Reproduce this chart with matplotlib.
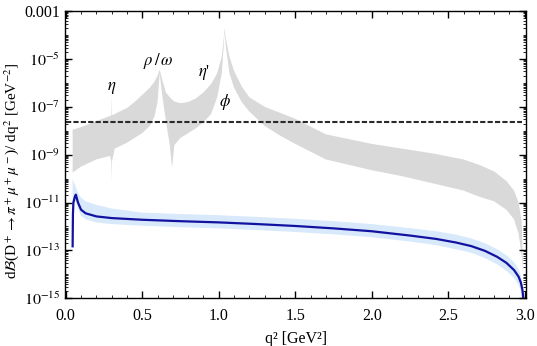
import numpy as np
import matplotlib
matplotlib.use("Agg")
import matplotlib.pyplot as plt
from matplotlib.ticker import FixedLocator, MultipleLocator, LogLocator, NullFormatter

plt.rcParams["font.family"] = ["Liberation Serif", "DejaVu Serif"]
plt.rcParams["mathtext.fontset"] = "stix"

# long-distance band (grey), log10 of dB/dq2
gray_q = [0.045, 0.10, 0.20, 0.29, 0.298, 0.300, 0.302, 0.32, 0.40, 0.45, 0.50,
          0.55, 0.58, 0.60, 0.614, 0.63, 0.655, 0.68, 0.695, 0.71, 0.75, 0.80,
          0.85, 0.90, 0.95, 0.99, 1.02, 1.035, 1.039, 1.045, 1.07, 1.10, 1.15,
          1.20, 1.30, 1.40, 1.50, 1.70, 2.00, 2.20, 2.40, 2.60, 2.70, 2.80,
          2.88, 2.93, 2.96, 2.98, 2.99]
gray_hi = [-7.96, -7.85, -7.6, -7.38, -7.35, -6.5, -7.35, -7.3, -7.05, -6.8, -6.5,
           -6.2, -5.95, -5.7, -5.45, -5.85, -6.4, -6.6, -6.7, -6.78, -6.85, -6.8,
           -6.65, -6.4, -6.05, -5.6, -4.9, -4.0, -3.7, -4.1, -4.9, -5.5, -6.15,
           -6.6, -7.0, -7.25, -7.5, -8.15, -8.55, -8.75, -8.95, -9.2, -9.42, -9.7,
           -10.1, -10.5, -11.0, -11.8, -14.0]
gray_lo = [-9.75, -9.5, -9.2, -9.05, -9.3, -10.17, -9.3, -8.75, -8.5, -8.3, -8.1,
           -7.8, -7.4, -6.8, -5.6, -6.5, -7.6, -8.6, -9.55, -8.6, -8.3, -8.1,
           -7.9, -7.65, -7.3, -6.6, -5.6, -4.2, -3.9, -4.4, -5.6, -6.2, -6.8,
           -7.2, -7.8, -8.2, -8.55, -9.2, -9.65, -9.9, -10.2, -10.5, -10.75, -10.95,
           -11.3, -11.7, -12.3, -13.2, -14.0]

# short-distance prediction (blue line + light-blue band)
sd_q = [0.045, 0.047, 0.05, 0.06, 0.066, 0.08, 0.10, 0.13, 0.20, 0.30, 0.50,
        0.75, 1.00, 1.25, 1.50, 1.75, 2.00, 2.25, 2.42, 2.55, 2.65, 2.74, 2.82,
        2.88, 2.93, 2.96, 2.975, 2.985, 2.995]
sd_mid = [-12.83, -11.5, -11.0, -10.75, -10.67, -11.0, -11.3, -11.45, -11.58,
          -11.65, -11.72, -11.78, -11.83, -11.9, -11.98, -12.08, -12.2, -12.38,
          -12.52, -12.67, -12.82, -13.02, -13.27, -13.52, -13.82, -14.1, -14.35,
          -14.65, -15.3]
sd_hi = [-10.0, -10.05, -10.12, -10.25, -10.35, -10.6, -10.8, -10.95, -11.1,
         -11.25, -11.42, -11.48, -11.53, -11.6, -11.68, -11.78, -11.9, -12.07,
         -12.2, -12.34, -12.5, -12.7, -12.95, -13.2, -13.5, -13.8, -14.05,
         -14.4, -15.0]
sd_lo = [-11.3, -11.3, -11.25, -11.0, -10.95, -11.25, -11.55, -11.7, -11.83,
         -11.9, -11.97, -12.03, -12.08, -12.15, -12.23, -12.33, -12.45, -12.63,
         -12.78, -12.95, -13.1, -13.32, -13.58, -13.85, -14.15, -14.45, -14.7,
         -15.0, -15.5]

limit = 2.4e-8  # experimental bound (dashed)

labels = [(r"$\eta$", 0.30, 10**-6.2), (r"$\rho\,/\,\omega$", 0.605, 10**-5.1),
          (r"$\eta$'", 0.905, 10**-5.55), (r"$\phi$", 1.04, 10**-6.8)]

fig = plt.figure(figsize=(5.37, 3.46), dpi=100)
ax = fig.add_axes([0.121, 0.138, 0.859, 0.83])

ax.fill_between(gray_q, 10**np.array(gray_lo), 10**np.array(gray_hi),
                facecolor="#d9d9d9", edgecolor="none", lw=0)
ax.fill_between(sd_q, 10**np.array(sd_lo), 10**np.array(sd_hi),
                facecolor="#d8e9fb", edgecolor="none", lw=0)
ax.plot(sd_q, 10**np.array(sd_mid), color="#1212a0", lw=1.6)
ax.plot([0.0, 2.98], [limit, limit], color="#2a2a2a", lw=1.5, dashes=(2.5, 1.05))

for txt, x, y in labels:
    ax.text(x, y, txt, fontsize=12, ha="center", va="center")

ax.set_yscale("log")
ax.set_xlim(-0.005, 3.01)
ax.set_ylim(1e-15, 1e-3)

ax.yaxis.set_major_locator(FixedLocator([1e-15, 1e-13, 1e-11, 1e-9, 1e-7, 1e-5, 1e-3]))
ax.set_yticklabels([r"$10^{-15}$", r"$10^{-13}$", r"$10^{-11}$", r"$10^{-9}$",
                    r"$10^{-7}$", r"$10^{-5}$", "0.001"])
ax.yaxis.set_minor_locator(LogLocator(base=10, subs=np.arange(1, 10), numticks=30))
ax.yaxis.set_minor_formatter(NullFormatter())
ax.set_xticks([0, 0.5, 1.0, 1.5, 2.0, 2.5, 3.0])
ax.set_xticklabels(["0.0", "0.5", "1.0", "1.5", "2.0", "2.5", "3.0"])
ax.xaxis.set_minor_locator(MultipleLocator(0.1))

ax.tick_params(which="both", direction="in", top=True, right=True, labelsize=11.5)
ax.tick_params(axis="x", pad=7)
ax.tick_params(which="major", length=5, width=1)
ax.tick_params(which="minor", length=2.5, width=0.6)
for s in ax.spines.values():
    s.set_linewidth(1.0)

ax.set_xlabel("q² [GeV²]", fontsize=11.5, labelpad=5)
ax.set_ylabel(r"d$\mathcal{B}$(D$^+$$\rightarrow\pi^+\mu^+\mu^-$)/ dq$^2$ [GeV$^{-2}$]",
              fontsize=11)
ax.yaxis.set_label_coords(-0.095, 0.445)

fig.savefig("out.png", dpi=100)
